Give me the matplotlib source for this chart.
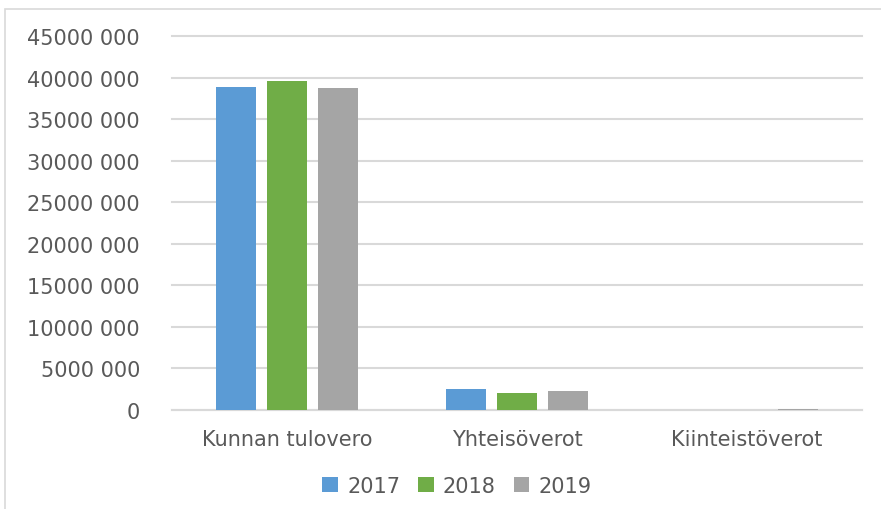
import matplotlib.pyplot as plt
from matplotlib.patches import Rectangle
import numpy as np

categories = ["Kunnan tulovero", "Yhteisöverot", "Kiinteistöverot"]
years = ["2017", "2018", "2019"]
values_2017 = [38860000, 2530000, 20000]
values_2018 = [39620000, 2050000, 60000]
values_2019 = [38780000, 2320000, 130000]
colors = ["#5B9BD5", "#70AD47", "#A5A5A5"]
yticks = [0, 5000000, 10000000, 15000000, 20000000, 25000000,
          30000000, 35000000, 40000000, 45000000]

text_color = "#595959"
grid_color = "#D9D9D9"

fig = plt.figure(figsize=(8.81, 5.10), dpi=100)
ax = fig.add_axes([172 / 881, 1 - 411 / 510, 690 / 881, 374 / 510])

x = np.arange(len(categories))
bar_w = 40 / 230
step = 51 / 230
series = [values_2017, values_2018, values_2019]
for i, (vals, yr, col) in enumerate(zip(series, years, colors)):
    ax.bar(x + (i - 1) * step, vals, width=bar_w, color=col, label=yr,
           zorder=3)

ax.set_xlim(-0.5, 2.5)
ax.set_ylim(0, 45000000)
ax.set_yticks(yticks)


def fmt(v):
    v = int(v)
    if v == 0:
        return "0"
    return f"{v // 1000}" + " " + f"{v % 1000:03d}"


ax.set_yticklabels([fmt(v) for v in yticks])
ax.set_xticks(x)
ax.set_xticklabels(categories)
ax.tick_params(axis="y", length=0, pad=23, labelsize=15, labelcolor=text_color)
ax.tick_params(axis="x", length=0, pad=14, labelsize=15, labelcolor=text_color)
ax.yaxis.grid(True, color=grid_color, linewidth=1.5, zorder=0)
for line in ax.get_ygridlines():
    line.set_clip_on(False)
for s in ["top", "right", "left"]:
    ax.spines[s].set_visible(False)
ax.spines["bottom"].set_color(grid_color)
ax.spines["bottom"].set_linewidth(1.5)

leg = ax.legend(loc="center", bbox_to_anchor=(457 / 881, 1 - 487 / 510),
                bbox_transform=fig.transFigure, ncol=3, frameon=False,
                fontsize=15, handlelength=0.75, handleheight=0.75,
                handletextpad=0.45, columnspacing=0.85)
for t in leg.get_texts():
    t.set_color(text_color)

fig.patches.append(Rectangle((5 / 881, -0.1), 1.5, 1.1 - 10 / 510,
                             transform=fig.transFigure, fill=False,
                             edgecolor="#D9D9D9", linewidth=1.2))

fig.savefig("out.png", dpi=100)
